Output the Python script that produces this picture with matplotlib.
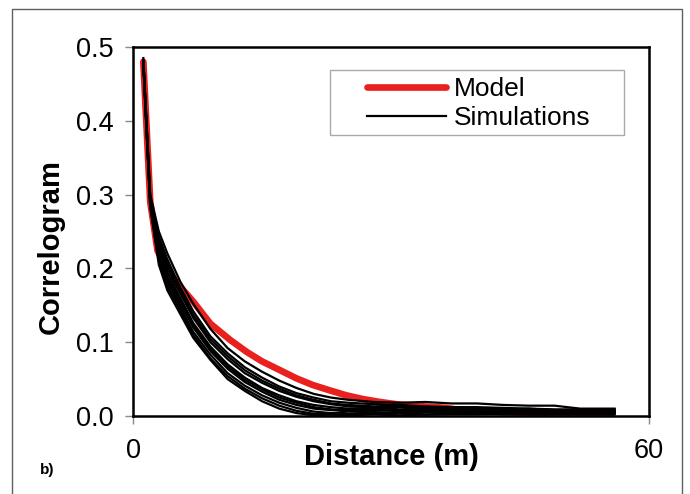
import matplotlib
matplotlib.use('Agg')
import matplotlib.pyplot as plt
from matplotlib.patches import Rectangle
from matplotlib.lines import Line2D

plt.rcParams['font.family'] = ['Liberation Sans', 'DejaVu Sans']

# model correlogram
model_dist = [1.2, 2.0, 2.85, 4.0, 5.5, 7.0, 9.0, 11.3, 13.2, 15.0, 17.1, 19.0,
              20.9, 22.8, 24.8, 26.7, 28.7, 30.6, 32.5, 36.4, 39.1, 42.0, 44.1,
              47.5, 51.0, 55.7]
model_corr = [0.48, 0.29, 0.224, 0.197, 0.175, 0.155, 0.125, 0.103, 0.087, 0.074,
              0.062, 0.051, 0.042, 0.035, 0.028, 0.023, 0.019, 0.016, 0.014,
              0.011, 0.006, 0.006, 0.005, 0.002, -0.001, -0.002]

# simulated correlograms
sim_dist = [1.2, 2.0, 3.0, 4.0, 5.5, 7.0, 9.0, 11.0, 13.0, 15.0, 17.0, 19.0,
            21.0, 23.0, 25.0, 28.0, 31.0, 34.0, 37.0, 40.0, 43.0, 46.0, 49.0,
            52.0, 56.0]
sim_01 = [0.485, 0.300, 0.250, 0.220, 0.182, 0.152, 0.118, 0.092, 0.074, 0.060, 0.048, 0.038, 0.030,
          0.025, 0.022, 0.019, 0.018, 0.019, 0.017, 0.017, 0.015, 0.014, 0.014, 0.010, 0.010]
sim_02 = [0.482, 0.295, 0.243, 0.212, 0.174, 0.142, 0.108, 0.085, 0.066, 0.052, 0.040, 0.031, 0.025,
          0.020, 0.018, 0.016, 0.015, 0.013, 0.012, 0.012, 0.011, 0.010, 0.009, 0.009, 0.008]
sim_03 = [0.480, 0.292, 0.232, 0.200, 0.166, 0.133, 0.100, 0.077, 0.058, 0.045, 0.034, 0.026, 0.020,
          0.016, 0.013, 0.012, 0.012, 0.010, 0.011, 0.009, 0.010, 0.008, 0.008, 0.007, 0.007]
sim_04 = [0.480, 0.290, 0.226, 0.194, 0.160, 0.126, 0.094, 0.070, 0.052, 0.038, 0.028, 0.020, 0.015,
          0.012, 0.010, 0.011, 0.009, 0.010, 0.008, 0.009, 0.007, 0.008, 0.006, 0.006, 0.006]
sim_05 = [0.478, 0.288, 0.218, 0.184, 0.153, 0.120, 0.088, 0.064, 0.046, 0.033, 0.022, 0.015, 0.010,
          0.008, 0.009, 0.007, 0.008, 0.006, 0.007, 0.006, 0.006, 0.005, 0.005, 0.005, 0.005]
sim_06 = [0.478, 0.286, 0.214, 0.180, 0.148, 0.114, 0.083, 0.058, 0.041, 0.028, 0.018, 0.011, 0.006,
          0.004, 0.006, 0.005, 0.004, 0.005, 0.004, 0.005, 0.004, 0.004, 0.004, 0.004, 0.004]
sim_07 = [0.476, 0.284, 0.210, 0.175, 0.143, 0.110, 0.078, 0.054, 0.037, 0.024, 0.014, 0.007, 0.003,
          0.002, 0.003, 0.003, 0.004, 0.002, 0.003, 0.003, 0.002, 0.003, 0.003, 0.003, 0.003]
sim_08 = [0.476, 0.283, 0.205, 0.170, 0.138, 0.106, 0.076, 0.050, 0.034, 0.020, 0.010, 0.004, 0.001,
          0.002, 0.001, 0.002, 0.001, 0.002, 0.002, 0.002, 0.003, 0.002, 0.002, 0.002, 0.002]
sim_09 = [0.481, 0.294, 0.238, 0.206, 0.170, 0.137, 0.104, 0.081, 0.062, 0.048, 0.037, 0.028, 0.022,
          0.017, 0.015, 0.013, 0.014, 0.012, 0.012, 0.011, 0.009, 0.010, 0.008, 0.008, 0.009]
sim_10 = [0.479, 0.289, 0.222, 0.188, 0.157, 0.123, 0.091, 0.067, 0.049, 0.036, 0.025, 0.018, 0.012,
          0.009, 0.007, 0.009, 0.006, 0.008, 0.005, 0.007, 0.005, 0.006, 0.004, 0.005, 0.006]
simulations = [sim_01, sim_02, sim_03, sim_04, sim_05, sim_06, sim_07, sim_08, sim_09, sim_10]

y_ticks = [0.0, 0.1, 0.2, 0.3, 0.4, 0.5]
x_ticks = [0, 60]

fig = plt.figure(figsize=(6.9, 4.94), dpi=100)
ax = fig.add_axes([0.1928, 0.1579, 0.7478, 0.7470])

ax.plot(model_dist, model_corr, color='#e8201e', linewidth=4.8,
        solid_capstyle='round', zorder=2)
for sim in simulations:
    ax.plot(sim_dist, sim, color='black', linewidth=1.6, zorder=3)

ax.set_xlim(0, 60)
ax.set_ylim(0, 0.5)
ax.set_xticks(x_ticks)
ax.set_yticks(y_ticks)
ax.set_yticklabels([f'{v:.1f}' for v in y_ticks])
ax.tick_params(axis='both', direction='out', length=6, width=1, color='#888888',
               labelsize=19.5)
ax.tick_params(axis='y', pad=8)
ax.tick_params(axis='x', pad=10)
for sp in ax.spines.values():
    sp.set_linewidth(1.8)
    sp.set_color('black')

ax.set_xlabel('Distance (m)', fontsize=21, fontweight='bold')
ax.xaxis.set_label_coords(0.5, -0.112)
ax.xaxis.label.set_verticalalignment('center')
ax.set_ylabel('Correlogram', fontsize=21, fontweight='bold')
ax.yaxis.set_label_coords(-0.16, 0.46)
ax.yaxis.label.set_verticalalignment('center')

# legend with its own plain frame
ax.add_patch(Rectangle((0.381, 0.761), 0.571, 0.177, transform=ax.transAxes,
                       facecolor='white', edgecolor='#aaaaaa', linewidth=1,
                       zorder=4))
handles = [Line2D([], [], color='#e8201e', linewidth=4.8, solid_capstyle='round'),
           Line2D([], [], color='black', linewidth=1.6)]
ax.legend(handles, ['Model', 'Simulations'], loc='upper left',
          bbox_to_anchor=(0.428, 0.955), frameon=False, fontsize=19,
          handlelength=3.0, handletextpad=0.3, labelspacing=0.2,
          borderpad=0.0).set_zorder(5)

fig.text(0.058, 0.049, 'b)', fontsize=11, fontweight='bold', ha='left', va='center')

fig.add_artist(Rectangle((0.0174, -0.05), 0.9710, 1.032, transform=fig.transFigure,
                         facecolor='none', edgecolor='#606060', linewidth=1))

fig.savefig('out.png', dpi=100)
